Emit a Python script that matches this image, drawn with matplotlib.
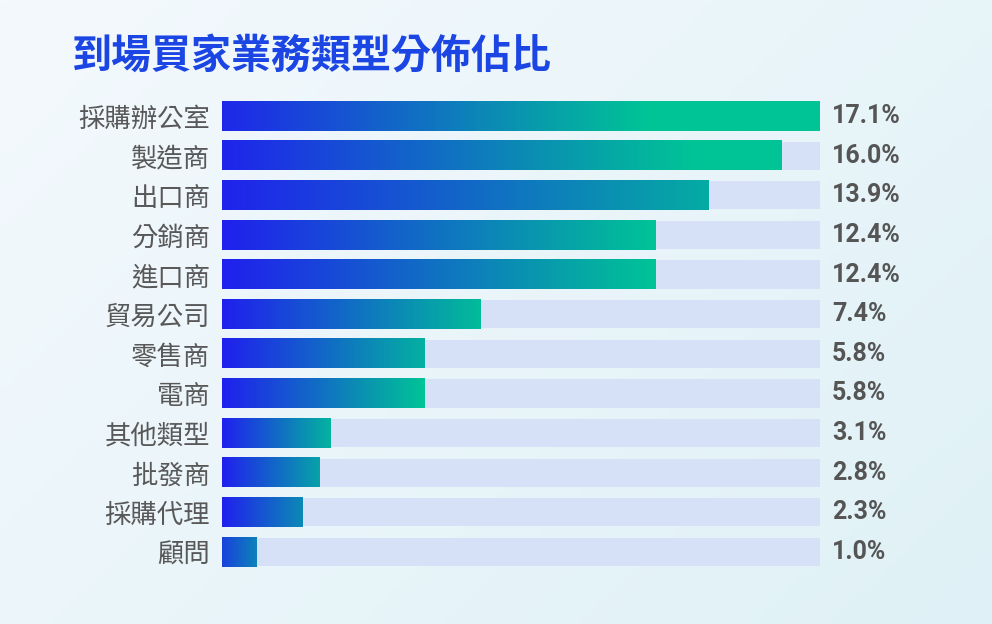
import numpy as np
import matplotlib.pyplot as plt
from matplotlib.colors import LinearSegmentedColormap

categories = ['採購辦公室', '製造商', '出口商', '分銷商', '進口商', '貿易公司',
              '零售商', '電商', '其他類型', '批發商', '採購代理', '顧問']
shares = [17.1, 16.0, 13.9, 12.4, 12.4, 7.4, 5.8, 5.8, 3.1, 2.8, 2.3, 1.0]
value_labels = ['17.1%', '16.0%', '13.9%', '12.4%', '12.4%', '7.4%',
                '5.8%', '5.8%', '3.1%', '2.8%', '2.3%', '1.0%']
title = '到場買家業務類型分佈佔比'

# where each bar's gradient starts / ends on the blue -> green ramp
ramp_start = [0.05, 0.03, 0.02, 0.0, 0.0, 0.0, 0.0, 0.0, 0.0, 0.0, 0.0, 0.2]
ramp_end = [1.38, 1.18, 0.85, 1.0, 1.0, 0.95, 0.88, 1.0, 0.9, 0.8, 0.65, 0.6]

cjk = ['Noto Sans CJK TC', 'DejaVu Sans']
ramp = LinearSegmentedColormap.from_list('bar', ['#2020ee', '#00c496'])

W, H = 992, 624
fig = plt.figure(figsize=(W / 100, H / 100), dpi=100)

# background gradient
bg = fig.add_axes([0, 0, 1, 1])
yy, xx = np.mgrid[0:1:200j, 0:1:300j]
t = 0.6 * xx + 0.4 * yy
bg_cmap = LinearSegmentedColormap.from_list('bg', ['#f4f9fd', '#dff1f6'])
bg.imshow(t, cmap=bg_cmap, aspect='auto', extent=[0, 1, 0, 1], origin='upper')
bg.axis('off')

row_h = (552 - 116) / 11
top_px = 116 - row_h / 2
bot_px = 552 + row_h / 2
left_px, right_px = 222, 820
ax = fig.add_axes([left_px / W, 1 - bot_px / H, (right_px - left_px) / W, (bot_px - top_px) / H])
ax.patch.set_alpha(0)

n = len(categories)
vmax = max(shares)

ax.barh(range(n), [vmax] * n, height=0.71, color='#d6e0f7', zorder=1)

for i, v in enumerate(shares):
    f = np.linspace(0, 1, 256)
    c = np.clip(ramp_start[i] + (ramp_end[i] - ramp_start[i]) * f, 0, 1)
    ax.imshow(c[np.newaxis, :], cmap=ramp, vmin=0, vmax=1, aspect='auto',
              extent=[0, v, i + 0.37, i - 0.37], interpolation='bilinear', zorder=2)
    ax.annotate(value_labels[i], xy=(vmax, i), xytext=(8.6, 0), textcoords='offset points',
                ha='left', va='center', fontsize=18, fontweight='bold',
                family=['Roboto', 'DejaVu Sans'], color='#555555')

ax.set_xlim(0, vmax)
ax.set_ylim(n - 0.5, -0.5)
ax.set_yticks(range(n))
ax.set_yticklabels(categories, family=cjk, fontsize=19, color='#585858')
ax.tick_params(axis='y', length=0, pad=8.6)
ax.set_xticks([])
for s in ax.spines.values():
    s.set_visible(False)

fig.text(72 / W, 1 - 57 / H, title, family=cjk, fontsize=28.8, fontweight='bold',
         color='#1c46e3', ha='left', va='center')

fig.savefig('out.png', dpi=100)
